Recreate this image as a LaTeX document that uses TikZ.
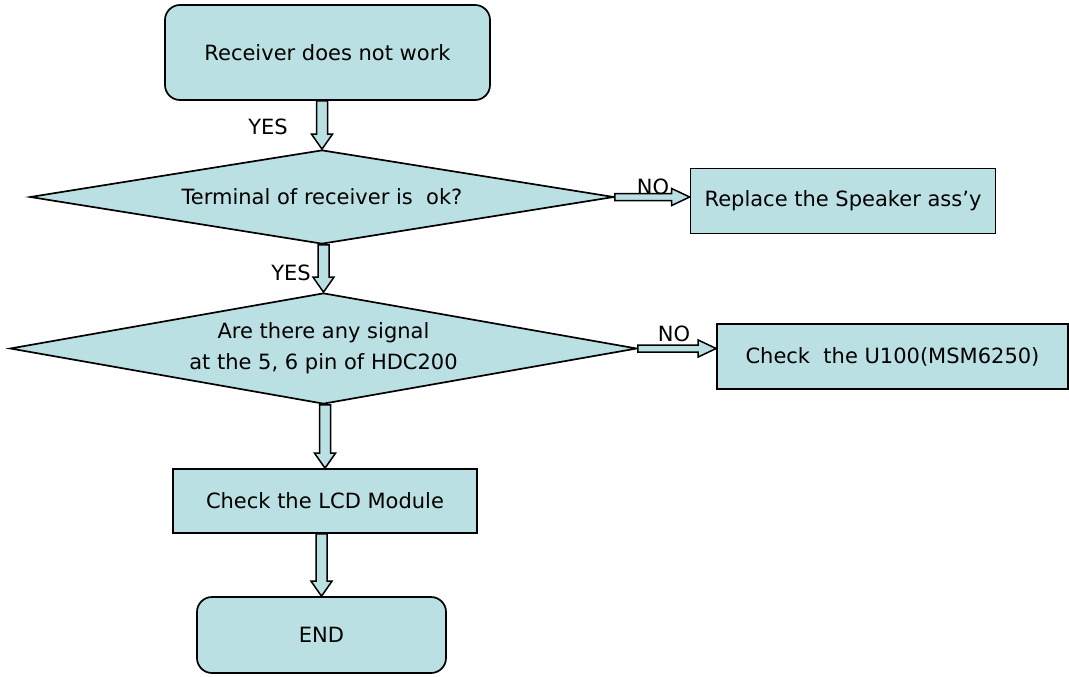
\documentclass[tikz,border=0pt]{standalone}
\usepackage{fontspec}
\setmainfont{DejaVu Sans}
\usetikzlibrary{shapes.geometric,calc}
\definecolor{boxfill}{RGB}{187,224,227}
\tikzset{
  base/.style={draw=black, line width=1.7pt, fill=boxfill, inner sep=0pt, font=\fontsize{21}{31}\selectfont},
  procbox/.style={base, rectangle},
  termbox/.style={base, rectangle, rounded corners=15pt},
  decbox/.style={base, diamond, align=center},
  barrow/.style={draw=black, line width=1.5pt, fill=boxfill, line join=miter},
  lbl/.style={font=\fontsize{21}{25}\selectfont, inner sep=0pt}
}
\newcommand\vbarrow[2]{\path[barrow] let \p1=(#1), \p2=(#2) in
  (\x2-5.5pt,\y1) -- (\x2-5.5pt,\y2+15pt) -- (\x2-10.5pt,\y2+15pt) -- (\x2,\y2)
  -- (\x2+10.5pt,\y2+15pt) -- (\x2+5.5pt,\y2+15pt) -- (\x2+5.5pt,\y1) -- cycle;}
\newcommand\hbarrow[2]{\path[barrow] let \p1=(#1), \p2=(#2) in
  (\x1,\y1-3.5pt) -- (\x2-18pt,\y1-3.5pt) -- (\x2-18pt,\y1-8.5pt) -- (\x2,\y1)
  -- (\x2-18pt,\y1+8.5pt) -- (\x2-18pt,\y1+3.5pt) -- (\x1,\y1+3.5pt) -- cycle;}
\begin{document}
\begin{tikzpicture}[x=1pt,y=-1pt]
\useasboundingbox (0,0) rectangle (1069,677);
\node[termbox, minimum width=325pt, minimum height=95pt] (start) at (327.5,52.5) {Receiver does not work};
\node[decbox, aspect=6.21, minimum width=584pt, minimum height=94pt] (d1) at (322,197) {Terminal of receiver is \ ok?};
\node[procbox, minimum width=305pt, minimum height=65pt] (rep) at (843,201) {Replace the Speaker ass’y};
\node[decbox, aspect=5.65, minimum width=627pt, minimum height=111pt] (d2) at (323.5,348.5) {Are there any signal\\at the 5, 6 pin of HDC200};
\node[procbox, minimum width=351pt, minimum height=65pt] (u100) at (892.5,356.5) {Check \ the U100(MSM6250)};
\node[procbox, minimum width=304pt, minimum height=64pt] (lcd) at (325,501) {Check the LCD Module};
\node[termbox, minimum width=249pt, minimum height=76pt] (end) at (321.5,635) {END};
\vbarrow{start.south}{d1.north}
\vbarrow{d1.south}{d2.north}
\vbarrow{d2.south}{lcd.north}
\vbarrow{lcd.south}{end.north}
\hbarrow{d1.east}{rep.west}
\hbarrow{d2.east}{u100.west}
\node[lbl] (yes1) at (268,127) {YES};
\node[lbl] (yes2) at (291,273) {YES};
\node[lbl] (no1) at (653,187) {NO};
\node[lbl] (no2) at (674,334) {NO};
\end{tikzpicture}
\end{document}
